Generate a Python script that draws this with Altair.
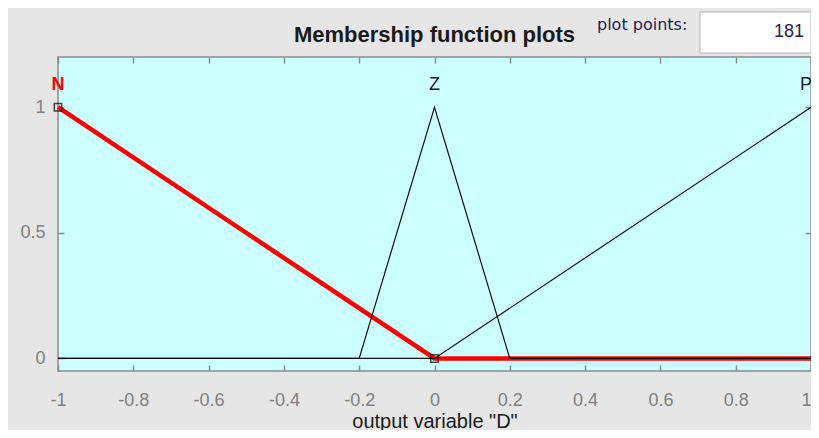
import altair as alt
import pandas as pd

# ---- data ----
x_ticks = [-1, -0.8, -0.6, -0.4, -0.2, 0, 0.2, 0.4, 0.6, 0.8, 1]
y_ticks = [0, 0.5, 1]

mf_names = ["N", "Z", "P"]
mf_peaks = [-1, 0, 1]

n_x = [-1, 0, 1]
n_y = [1, 0, 0]
z_x = [-1, -0.2, 0, 0.2, 1]
z_y = [0, 0, 1, 0, 0]
p_x = [-1, 0, 1]
p_y = [0, 0, 1]

marker_x = [-1, 0]
marker_y = [1, 0]

plot_points = "181"
x_title = 'output variable "D"'
chart_title = "Membership function plots"

# ---- tables ----
red_df = pd.DataFrame({"x": n_x, "y": n_y, "mf": "N"})
black_df = pd.concat([
    pd.DataFrame({"x": z_x, "y": z_y, "mf": "Z"}),
    pd.DataFrame({"x": p_x, "y": p_y, "mf": "P"}),
], ignore_index=True)
black_df["order"] = range(len(black_df))
marker_df = pd.DataFrame({"x": marker_x, "y": marker_y})
label_df = pd.DataFrame({"x": mf_peaks, "name": mf_names})
one = pd.DataFrame({"a": [0]})

FONT = "Liberation Sans"
GRAY = "#8c8c8c"
LABEL_Y = 1.09

xs = alt.Scale(domain=[-1, 1], nice=False, zero=False)
ys = alt.Scale(domain=[-0.05, 1.2], nice=False, zero=False)

x_bottom = alt.Axis(values=x_ticks, labelExpr="'' + datum.value", orient="bottom",
                    offset=-6, tickSize=6, tickColor=GRAY, tickWidth=1.5,
                    domain=False, grid=False, labelFont=FONT, labelFontSize=18,
                    labelColor="#808080", labelPadding=20, labelFlush=False,
                    labelAlign={"expr": "datum.value == 1 ? 'right' : 'center'"},
                    labelOverlap=False, labelBound=False,
                    title=x_title, titleFont=FONT, titleFontSize=20,
                    titleFontWeight="normal", titleColor="#1a1a1a",
                    titleBaseline="alphabetic", titleY=62)
x_top = alt.Axis(values=x_ticks, orient="top", offset=-6, tickSize=6,
                 tickColor=GRAY, tickWidth=1.5, domain=False, grid=False,
                 labels=False, title=None)
y_left = alt.Axis(values=y_ticks, labelExpr="'' + datum.value", orient="left",
                  offset=-6, tickSize=6, tickColor=GRAY, tickWidth=1.5,
                  domain=False, grid=False, labelFont=FONT, labelFontSize=18,
                  labelColor="#808080", labelPadding=13, labelFlush=False,
                  labelOverlap=False, labelBound=False, title=None)
y_right = alt.Axis(values=y_ticks, orient="right", offset=-6, tickSize=6,
                   tickColor=GRAY, tickWidth=1.5, domain=False, grid=False,
                   labels=False, title=None)

red = alt.Chart(red_df).mark_line(color="#ff0000", strokeWidth=4.5).encode(
    x=alt.X("x:Q", scale=xs, axis=x_bottom),
    y=alt.Y("y:Q", scale=ys, axis=y_left),
)

black = alt.Chart(black_df).mark_line(color="#111111", strokeWidth=1.2).encode(
    x=alt.X("x:Q", scale=xs, axis=x_top),
    y=alt.Y("y:Q", scale=ys, axis=y_right),
    detail="mf:N",
    order="order:Q",
)

markers = alt.Chart(marker_df).mark_point(shape="square", filled=False,
                                          color="#000000", size=55,
                                          strokeWidth=1.5).encode(
    x=alt.X("x:Q", scale=xs, axis=None),
    y=alt.Y("y:Q", scale=ys, axis=None),
)

label_sel = alt.Chart(label_df).transform_filter("datum.name == 'N'").mark_text(
    font=FONT, fontSize=18, fontWeight="bold", color="#ff0000",
    align="center", baseline="middle").encode(
    x=alt.X("x:Q", scale=xs, axis=None),
    y=alt.datum(LABEL_Y, scale=ys, axis=None),
    text="name:N",
)
label_mid = alt.Chart(label_df).transform_filter("datum.name == 'Z'").mark_text(
    font=FONT, fontSize=18, color="#1a1a1a",
    align="center", baseline="middle").encode(
    x=alt.X("x:Q", scale=xs, axis=None),
    y=alt.datum(LABEL_Y, scale=ys, axis=None),
    text="name:N",
)
label_end = alt.Chart(label_df).transform_filter("datum.name == 'P'").mark_text(
    font=FONT, fontSize=18, color="#1a1a1a",
    align="right", baseline="middle", dx=1).encode(
    x=alt.X("x:Q", scale=xs, axis=None),
    y=alt.datum(LABEL_Y, scale=ys, axis=None),
    text="name:N",
)

# GUI decorations: "plot points:" label and edit box
box = alt.Chart(one).mark_rect(fill="white", stroke="#b4b4b4", strokeWidth=1).encode(
    x=alt.value(642), x2=alt.value(753), y=alt.value(-45), y2=alt.value(-4))
pp_label = alt.Chart(one).mark_text(font="DejaVu Sans", fontSize=16, color="#1e1e50",
                                    align="left", baseline="middle").encode(
    x=alt.value(539), y=alt.value(-32), text=alt.value("plot points:"))
pp_value = alt.Chart(one).mark_text(font=FONT, fontSize=18, color="#1e1e50",
                                    align="right", baseline="middle").encode(
    x=alt.value(746), y=alt.value(-25), text=alt.value(plot_points))

chart = alt.layer(
    red, black, markers, label_sel, label_mid, label_end, box, pp_label, pp_value
).resolve_axis(x="independent", y="independent").properties(
    width=753, height=314,
    autosize=alt.AutoSizeParams(type="none"),
    padding={"left": 50, "top": 49, "right": 0, "bottom": 59},
    background="#e6e6e6",
    title=alt.TitleParams(text=chart_title, font=FONT, fontSize=22,
                          fontWeight="bold", anchor="middle", frame="group",
                          baseline="alphabetic", offset=0, dy=52, color="#1a1a1a"),
).configure_view(fill="#ccffff", stroke="#8c8c8c", strokeWidth=1.5)

chart.save("out.html", embed_options={"renderer": "svg", "actions": False})
